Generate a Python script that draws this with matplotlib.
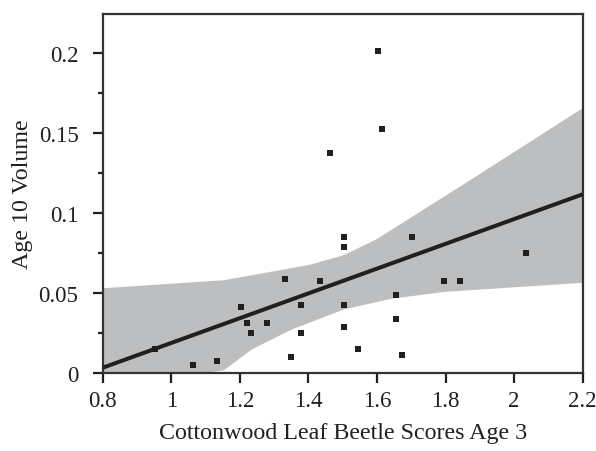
import matplotlib
matplotlib.use("Agg")
import matplotlib.pyplot as plt
import numpy as np
from matplotlib.ticker import MultipleLocator

# Data
beetle_score = [0.953, 1.064, 1.134, 1.204, 1.222, 1.233, 1.280, 1.332, 1.350,
                1.379, 1.379, 1.434, 1.463, 1.504, 1.504, 1.504, 1.504, 1.544,
                1.603, 1.615, 1.655, 1.655, 1.673, 1.702, 1.795, 1.842, 2.034]
volume = [0.015, 0.005, 0.0075, 0.041, 0.031, 0.025, 0.031, 0.059, 0.010,
          0.0425, 0.025, 0.0575, 0.1375, 0.085, 0.079, 0.0425, 0.029, 0.015,
          0.201, 0.1525, 0.0488, 0.034, 0.011, 0.085, 0.0575, 0.0575, 0.075]

fit_x = [0.8, 2.2]
fit_y = [0.0033, 0.1117]

band_upper_x = [0.8, 1.152, 1.404, 1.502, 1.598, 1.842, 2.2]
band_upper_y = [0.0533, 0.0583, 0.068, 0.074, 0.084, 0.117, 0.166]
band_lower_x = [0.8, 1.084, 1.152, 1.233, 1.350, 1.502, 1.640, 1.795, 2.2]
band_lower_y = [-0.040, 0.0, 0.002, 0.015, 0.0275, 0.040, 0.0467, 0.051, 0.0567]

x_ticks = [0.8, 1.0, 1.2, 1.4, 1.6, 1.8, 2.0, 2.2]
x_tick_labels = ["0.8", "1", "1.2", "1.4", "1.6", "1.8", "2", "2.2"]
y_ticks = [0, 0.05, 0.1, 0.15, 0.2]
y_tick_labels = ["0", "0.05", "0.1", "0.15", "0.2"]

plt.rcParams['font.family'] = ['Liberation Serif', 'DejaVu Serif']

fig = plt.figure(figsize=(5.96, 4.52), dpi=100)
ax = fig.add_axes([102.7 / 596, 78 / 452, 480 / 596, 359 / 452])

ink = '#231f20'
band_col = '#bcbec0'

grid_x = np.linspace(0.8, 2.2, 300)
up = np.interp(grid_x, band_upper_x, band_upper_y)
lo = np.interp(grid_x, band_lower_x, band_lower_y)
ax.fill_between(grid_x, lo, up, color=band_col, linewidth=0, zorder=1)

ax.plot(fit_x, fit_y, color=ink, linewidth=2.9, solid_capstyle='butt', zorder=3)
ax.plot(beetle_score, volume, linestyle='none', marker='s', markersize=4.6,
        color=ink, markeredgewidth=0, zorder=4)

ax.set_xlim(0.8, 2.2)
ax.set_ylim(0, 0.2244)

ax.set_xticks(x_ticks)
ax.set_xticklabels(x_tick_labels)
ax.set_yticks(y_ticks)
ax.set_yticklabels(y_tick_labels)
ax.yaxis.set_minor_locator(MultipleLocator(0.025))

for s in ax.spines.values():
    s.set_linewidth(1.6)
    s.set_color('#333333')

ax.tick_params(axis='both', which='major', direction='out', length=7.5,
               width=1.6, color=ink, labelsize=16.5, colors='#231f20')
ax.tick_params(axis='x', which='major', pad=5)
ax.tick_params(axis='y', which='major', pad=10)
ax.tick_params(axis='y', which='minor', direction='out', length=3.5,
               width=1.6, color=ink)

ax.set_xlabel("Cottonwood Leaf Beetle Scores Age 3", fontsize=17.3, color=ink,
              labelpad=8)
ax.set_ylabel("Age 10 Volume", fontsize=17.3, color=ink, labelpad=4)

fig.savefig("out.png", dpi=100)
